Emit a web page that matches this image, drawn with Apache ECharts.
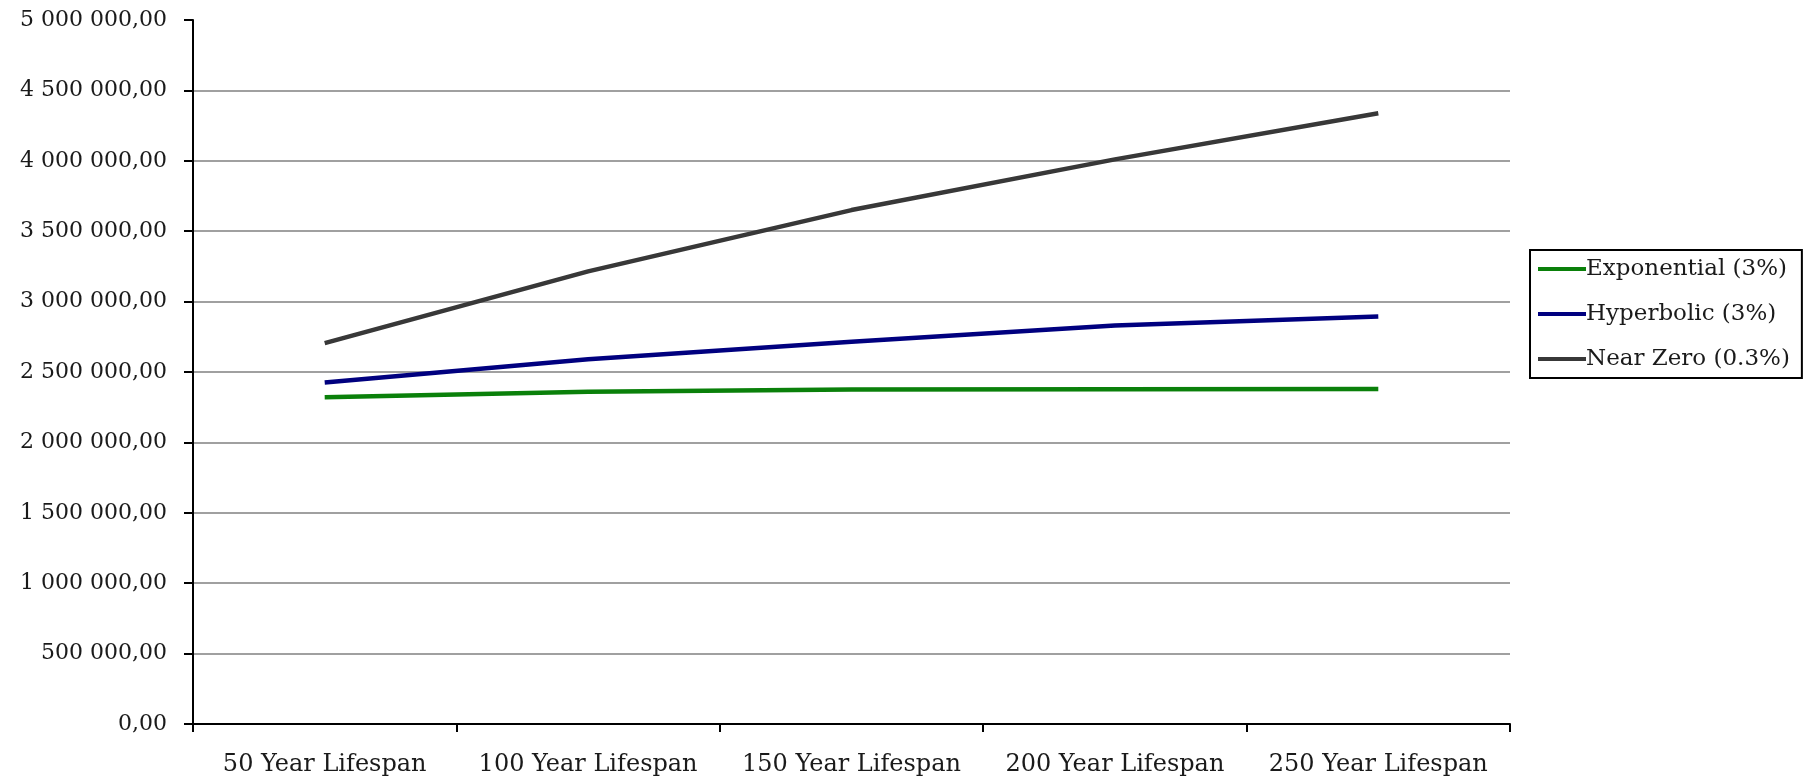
<!DOCTYPE html>
<html>
<head>
<meta charset="utf-8">
<script src="https://cdn.jsdelivr.net/npm/echarts@6/dist/echarts.min.js"></script>
<style>
  html, body { margin: 0; padding: 0; background: #ffffff; }
  #chart { width: 1805px; height: 784px; }
</style>
</head>
<body>
<div id="chart"></div>
<script>
// Present value by asset lifespan under three discounting schemes
const categories = ['50 Year Lifespan', '100 Year Lifespan', '150 Year Lifespan', '200 Year Lifespan', '250 Year Lifespan'];
const seriesNames = ['Exponential (3%)', 'Hyperbolic (3%)', 'Near Zero (0.3%)'];
const exponential = [2320000, 2360000, 2375000, 2378000, 2380000];
const hyperbolic = [2425000, 2590000, 2715000, 2830000, 2895000];
const nearZero = [2705000, 3215000, 3650000, 4010000, 4338000];
const seriesColors = ['#0a800a', '#00007f', '#383838'];

const FONT = 'DejaVu Serif';

function formatAmount(v) {
  const whole = Math.round(v).toString().replace(/\B(?=(\d{3})+(?!\d))/g, ' ');
  return whole + ',00';
}

// 11 split lines (0 .. 5 000 000); the top one is left undrawn
const gridColors = [];
for (let i = 0; i <= 10; i++) gridColors.push(i === 10 ? 'rgba(0,0,0,0)' : '#a0a0a0');

const chart = echarts.init(document.getElementById('chart'), null, { renderer: 'canvas' });

const lineSeries = [exponential, hyperbolic, nearZero].map((data, i) => ({
  name: seriesNames[i],
  type: 'line',
  data: data,
  symbol: 'none',
  smooth: false,
  lineStyle: { color: seriesColors[i], width: 4.5 },
  itemStyle: { color: seriesColors[i] },
  animation: false
}));

chart.setOption({
  backgroundColor: '#ffffff',
  animation: false,
  grid: { left: 193, right: 295, top: 20, bottom: 60 },
  xAxis: {
    type: 'category',
    data: categories,
    boundaryGap: true,
    axisLine: { lineStyle: { color: '#000000', width: 2 } },
    axisTick: { show: true, length: 8, alignWithLabel: false, lineStyle: { color: '#000000', width: 2 } },
    axisLabel: { color: '#1a1a1a', fontFamily: FONT, fontSize: 24, margin: 29, interval: 0 },
    splitLine: { show: false }
  },
  yAxis: {
    type: 'value',
    min: 0,
    max: 5000000,
    interval: 500000,
    axisLine: { show: true, lineStyle: { color: '#000000', width: 2 } },
    axisTick: { show: true, length: 9, lineStyle: { color: '#000000', width: 2 } },
    axisLabel: { color: '#1a1a1a', fontFamily: FONT, fontSize: 22, margin: 26, formatter: formatAmount },
    splitLine: { show: true, lineStyle: { color: gridColors, width: 2 } }
  },
  legend: {
    orient: 'vertical',
    left: 1530,
    top: 250,
    data: seriesNames,
    icon: 'rect',
    itemWidth: 48,
    itemHeight: 4,
    itemGap: 19,
    padding: [6, 12, 6, 8],
    borderColor: '#000000',
    borderWidth: 2,
    backgroundColor: '#ffffff',
    textStyle: { color: '#1a1a1a', fontFamily: FONT, fontSize: 23, lineHeight: 26, padding: [0, 0, 0, -5] }
  },
  series: lineSeries
});
</script>
</body>
</html>
